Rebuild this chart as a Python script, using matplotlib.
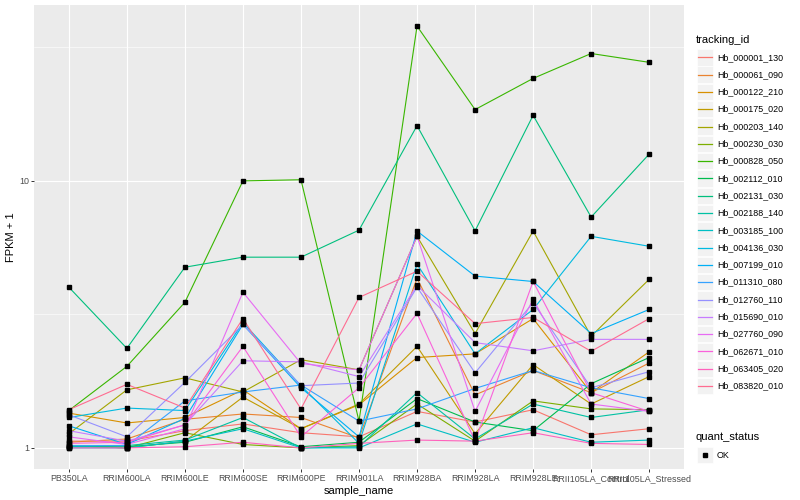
import numpy as np
import matplotlib
matplotlib.use("Agg")
import matplotlib.pyplot as plt
from matplotlib.patches import Rectangle
from matplotlib.lines import Line2D

plt.rcParams["font.family"] = ["Liberation Sans", "DejaVu Sans"]

samples = ["PB350LA", "RRIM600LA", "RRIM600LE", "RRIM600SE", "RRIM600PE",
           "RRIM901LA", "RRIM928BA", "RRIM928LA", "RRIM928LE",
           "RRII105LA_Control", "RRII105LA_Stressed"]

tracking_ids = ["Hb_000001_130", "Hb_000061_090", "Hb_000122_210", "Hb_000175_020",
                "Hb_000203_140", "Hb_000230_030", "Hb_000828_050", "Hb_002112_010",
                "Hb_002131_030", "Hb_002188_140", "Hb_003185_100", "Hb_004136_030",
                "Hb_007199_010", "Hb_011310_080", "Hb_012760_110", "Hb_015690_010",
                "Hb_027760_090", "Hb_062671_010", "Hb_063405_020", "Hb_083820_010"]

# FPKM + 1, one row per tracking id, one column per sample
fpkm = [
    [1.06, 1.06, 1.16, 1.23, 1.14, 1.10, 1.37, 1.25, 1.39, 1.12, 1.18],
    [1.05, 1.08, 1.28, 1.34, 1.30, 1.09, 4.32, 1.58, 1.95, 1.61, 2.08],
    [1.35, 1.24, 1.30, 1.65, 1.18, 1.45, 2.18, 2.25, 3.05, 1.61, 2.29],
    [1.02, 1.00, 1.06, 1.55, 1.18, 1.46, 2.40, 1.13, 2.05, 1.46, 1.85],
    [1.13, 1.65, 1.83, 1.62, 2.14, 1.96, 6.20, 2.68, 6.49, 2.62, 4.28],
    [1.02, 1.00, 1.14, 1.03, 1.00, 1.02, 1.46, 1.06, 1.50, 1.40, 1.39],
    [1.38, 2.02, 3.51, 10.0, 10.1, 1.26, 38.0, 18.5, 24.2, 30.0, 27.8],
    [1.01, 1.01, 1.05, 1.20, 1.01, 1.05, 1.53, 1.25, 1.16, 1.74, 2.18],
    [4.00, 2.36, 4.75, 5.18, 5.18, 6.54, 16.1, 6.50, 17.6, 7.32, 12.6],
    [1.01, 1.02, 1.07, 1.30, 1.00, 1.01, 1.61, 1.08, 1.46, 1.30, 1.39],
    [1.00, 1.00, 1.06, 1.18, 1.00, 1.00, 1.23, 1.05, 1.19, 1.05, 1.07],
    [1.30, 1.41, 1.38, 2.95, 1.71, 1.04, 4.88, 2.25, 3.30, 6.20, 5.69],
    [1.21, 1.03, 1.29, 2.90, 1.68, 1.10, 6.49, 4.40, 4.20, 2.68, 3.30],
    [1.02, 1.02, 1.50, 1.62, 1.72, 1.26, 1.40, 1.67, 1.95, 1.68, 1.53],
    [1.33, 1.10, 1.76, 2.90, 1.71, 1.75, 4.00, 1.91, 3.50, 1.68, 1.93],
    [1.16, 1.06, 1.22, 2.12, 2.10, 1.85, 4.06, 2.48, 2.31, 2.55, 2.55],
    [1.10, 1.03, 1.18, 3.83, 2.07, 1.96, 6.20, 1.37, 3.60, 1.46, 1.37],
    [1.04, 1.05, 1.22, 2.40, 1.10, 1.68, 3.19, 1.06, 4.20, 1.61, 1.37],
    [1.00, 1.00, 1.01, 1.05, 1.00, 1.04, 1.07, 1.06, 1.14, 1.04, 1.03],
    [1.39, 1.73, 1.41, 3.05, 1.40, 3.66, 4.59, 2.92, 3.08, 2.30, 3.05],
]

quant_status = ["OK"]

# ggplot2 default hue palette for 20 levels
colors = ["#F8766D", "#EA8331", "#D89000", "#C09B00", "#A3A500", "#7CAE00",
          "#39B600", "#00BB4E", "#00BF7D", "#00C1A3", "#00BFC4", "#00BAE0",
          "#00B0F6", "#35A2FF", "#9590FF", "#C77CFF", "#E76BF3", "#FA62DB",
          "#FF62BC", "#FF6C91"]

W, H = 800, 500
fig = plt.figure(figsize=(8, 5), dpi=100)
ax = fig.add_axes([34 / W, 1 - 469 / H, (684 - 34) / W, (469 - 5) / H])
ax.set_facecolor("#EBEBEB")

x = np.arange(len(samples))
for vals, col in zip(fpkm, colors):
    ax.plot(x, vals, color=col, lw=0.8, zorder=2)
for vals in fpkm:
    ax.plot(x, vals, ls="none", marker="s", ms=2.3, color="black", zorder=3)

ax.set_yscale("log")
lo = np.log10(np.min(fpkm))
hi = np.log10(np.max(fpkm))
pad = 0.05 * (hi - lo)
ax.set_ylim(10 ** (lo - pad), 10 ** (hi + pad))
ax.set_xlim(-0.6, len(samples) - 0.4)

ax.set_yticks([1, 10])
ax.set_yticklabels(["1", "10"])
ax.set_yticks([10 ** 0.5, 10 ** 1.5], minor=True)
ax.yaxis.set_minor_formatter(plt.NullFormatter())
ax.set_xticks(x)
ax.set_xticklabels(samples)

ax.grid(which="major", color="white", lw=0.8)
ax.grid(which="minor", axis="y", color="white", lw=0.4)
ax.set_axisbelow(True)
for s in ax.spines.values():
    s.set_visible(False)
ax.tick_params(which="major", length=2, width=0.7, color="#333333",
               labelsize=6.4, labelcolor="#4D4D4D", pad=1.5)
ax.tick_params(which="minor", length=0)

ax.set_xlabel("sample_name", fontsize=8, labelpad=2)
ax.set_ylabel("FPKM + 1", fontsize=8, labelpad=2)

# legend drawn in pixel coordinates to mimic ggplot keys
def px(xp, yp):
    return xp / W, 1 - yp / H

def key_box(yc):
    fig.patches.append(Rectangle(px(697, yc + 8.2), 16.4 / W, 16.4 / H,
                                 transform=fig.transFigure, facecolor="#F2F2F2",
                                 edgecolor="white", lw=0.5, zorder=1))

fig.text(*px(696, 40), "tracking_id", fontsize=8, va="center", ha="left")
for i, (name, col) in enumerate(zip(tracking_ids, colors)):
    yc = 57.3 + i * 17.3
    key_box(yc)
    fig.lines.append(Line2D([698 / W, 712 / W], [1 - yc / H] * 2,
                            transform=fig.transFigure, color=col, lw=0.9,
                            zorder=5))
    fig.text(*px(717, yc), name, fontsize=6.4, va="center", ha="left")

fig.text(*px(696, 437), "quant_status", fontsize=8, va="center", ha="left")
for j, name in enumerate(quant_status):
    yc = 455 + j * 17.3
    key_box(yc)
    fig.lines.append(Line2D([705 / W], [1 - yc / H], transform=fig.transFigure,
                            ls="none", marker="s", ms=2.3, color="black",
                            zorder=5))
    fig.text(*px(717, yc), name, fontsize=6.4, va="center", ha="left")

fig.savefig("out.png", dpi=100)
